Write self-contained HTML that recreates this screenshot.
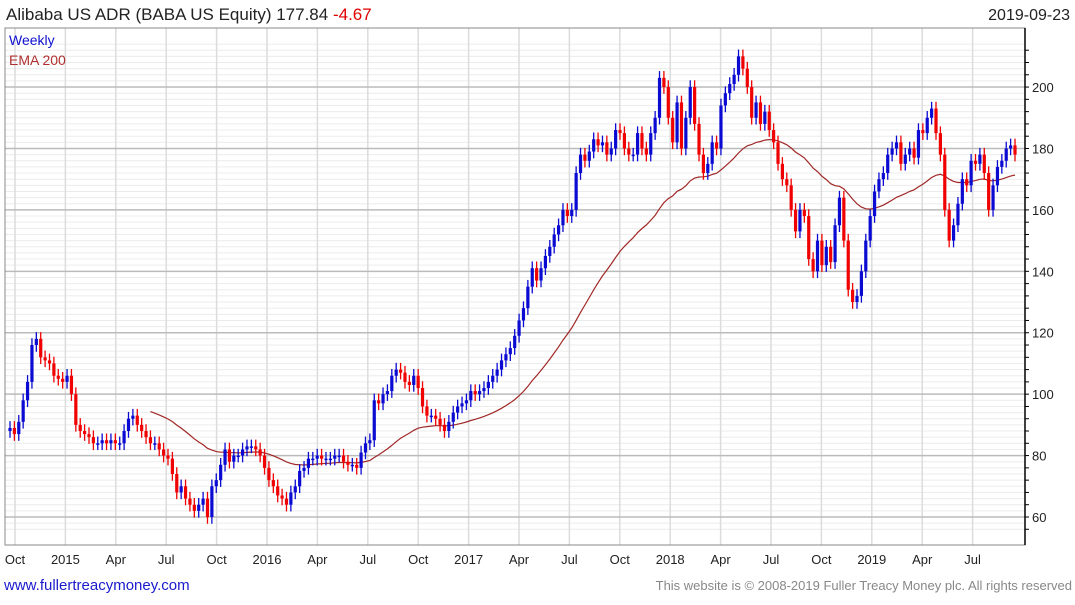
<!DOCTYPE html>
<html><head><meta charset="utf-8">
<style>
body{margin:0;background:#fff;font-family:"Liberation Sans",sans-serif;}
svg text{font-family:"Liberation Sans",sans-serif;}
</style></head>
<body>
<svg id="chart" width="1075" height="600" xmlns="http://www.w3.org/2000/svg">
<text x="6" y="20" font-size="17" fill="#222">Alibaba US ADR (BABA US Equity) 177.84 <tspan fill="#e00000">-4.67</tspan></text>
<text x="1070" y="20" font-size="16" fill="#222" text-anchor="end">2019-09-23</text>
<g id="grid"></g>
<g id="ema"></g>
<g id="candles"></g>
<rect x="5" y="28" width="1020" height="517" fill="none" stroke="#888" stroke-width="1"/>
<line x1="1025" y1="28" x2="1025" y2="545" stroke="#000" stroke-width="1.5"/>
<g id="axes"></g>
<text x="9" y="45" font-size="14" fill="#1010d0">Weekly</text>
<text x="9" y="65" font-size="14" fill="#b03030">EMA 200</text>
<text x="4" y="590" font-size="15" fill="#1a1acc">www.fullertreacymoney.com</text>
<text x="1072" y="590" font-size="13" fill="#888" text-anchor="end">This website is © 2008-2019 Fuller Treacy Money plc. All rights reserved</text>
</svg>
<script>
const closes=[89,87,91,98,104,116,118,112,111,110,106,105,104,106,100,90,88,87,86,84,84,85,84,85,84,84,88,92,93,90,88,86,84,84,82,80,79,74,68,70,66,64,62,64,66,60,70,72,77,82,78,80,80,82,83,83,82,80,76,72,70,67,66,64,68,70,75,76,79,79,80,79,79,79,80,80,78,77,77,76,81,84,85,98,97,100,101,106,108,107,104,103,106,102,96,93,93,92,90,88,91,94,96,97,98,101,100,101,102,104,106,108,111,113,115,119,124,128,135,141,137,141,145,148,152,155,160,158,160,172,178,176,179,183,181,182,178,180,186,185,180,178,178,185,180,178,185,190,203,200,190,182,195,180,190,200,188,178,172,175,182,180,194,198,201,204,210,206,200,190,195,188,192,186,182,175,170,168,160,153,160,158,144,140,150,142,148,143,155,164,150,134,130,132,140,150,158,166,170,172,178,180,182,175,178,180,177,186,185,190,193,185,178,160,150,155,162,170,168,176,175,178,172,160,168,174,176,180,181,178];
const yTicks=[60,80,100,120,140,160,180,200];
const xTickLabels=["Oct","2015","Apr","Jul","Oct","2016","Apr","Jul","Oct","2017","Apr","Jul","Oct","2018","Apr","Jul","Oct","2019","Apr","Jul"];
const xTickMonths=[0,3,6,9,12,15,18,21,24,27,30,33,36,39,42,45,48,51,54,57];
const NS="http://www.w3.org/2000/svg";
const n=closes.length;
function yS(v){return 517-(v-60)*3.071;}
function xS(i){return 10+i*(1015-10)/(n-1);}
function xM(m){return 15+m*16.8;}
function mk(tag,attrs,parent){const e=document.createElementNS(NS,tag);for(const k in attrs)e.setAttribute(k,attrs[k]);parent.appendChild(e);return e;}
const grid=document.getElementById('grid'),axes=document.getElementById('axes');
for(let v=56;v<=214;v+=2){if(v%20===0)continue;const l=mk('line',{x1:5,x2:1025,y1:yS(v),y2:yS(v),stroke:'#ececec','stroke-width':1},grid);

}
xTickMonths.forEach((m,k)=>{const x=xM(m);
const l=mk('line',{x1:x,x2:x,y1:28,y2:545,stroke:'#dcdcdc','stroke-width':1.5},grid);


const t=mk('text',{x:x,y:564,'font-size':13,fill:'#222','text-anchor':'middle'},axes);t.textContent=xTickLabels[k];

});
yTicks.forEach(v=>{const y=yS(v);
const l=mk('line',{x1:5,x2:1025,y1:y,y2:y,stroke:'#bbb','stroke-width':1.5},grid);


const t=mk('text',{x:1032,y:y+5,'font-size':13,fill:'#222'},axes);t.textContent=v;

});
for(let v=56;v<=214;v+=4){const tk=mk('line',{x1:1025,x2:1029,y1:yS(v),y2:yS(v),stroke:'#000','stroke-width':1},axes);

}
const cg=document.getElementById('candles');
for(let i=0;i<n;i++){const o=i?closes[i-1]:closes[0]-1,c=closes[i];const up=c>=o;const col=up?'#0a0ad2':'#f00000';
const hi=Math.max(o,c)+2.2,lo=Math.min(o,c)-2.2;const x=xS(i);
const w=mk('line',{x1:x,x2:x,y1:yS(hi),y2:yS(lo),stroke:col,'stroke-width':1.3},cg);


const top=yS(Math.max(o,c)),bot=yS(Math.min(o,c));
const r=mk('rect',{x:x-1.6,y:top,width:3.2,height:Math.max(1.5,bot-top),fill:col},cg);

}
const start=32;let e=0;for(let i=0;i<start;i++)e+=closes[i];e/=start;const a=2/41;let pts=[];
for(let i=start;i<n;i++){e=e+a*(closes[i]-e);pts.push(xS(i).toFixed(1)+','+yS(e).toFixed(1));}
const pl=mk('polyline',{points:pts.join(' '),fill:'none',stroke:'#a02828','stroke-width':1.2},document.getElementById('ema'));


</script>
</body></html>
